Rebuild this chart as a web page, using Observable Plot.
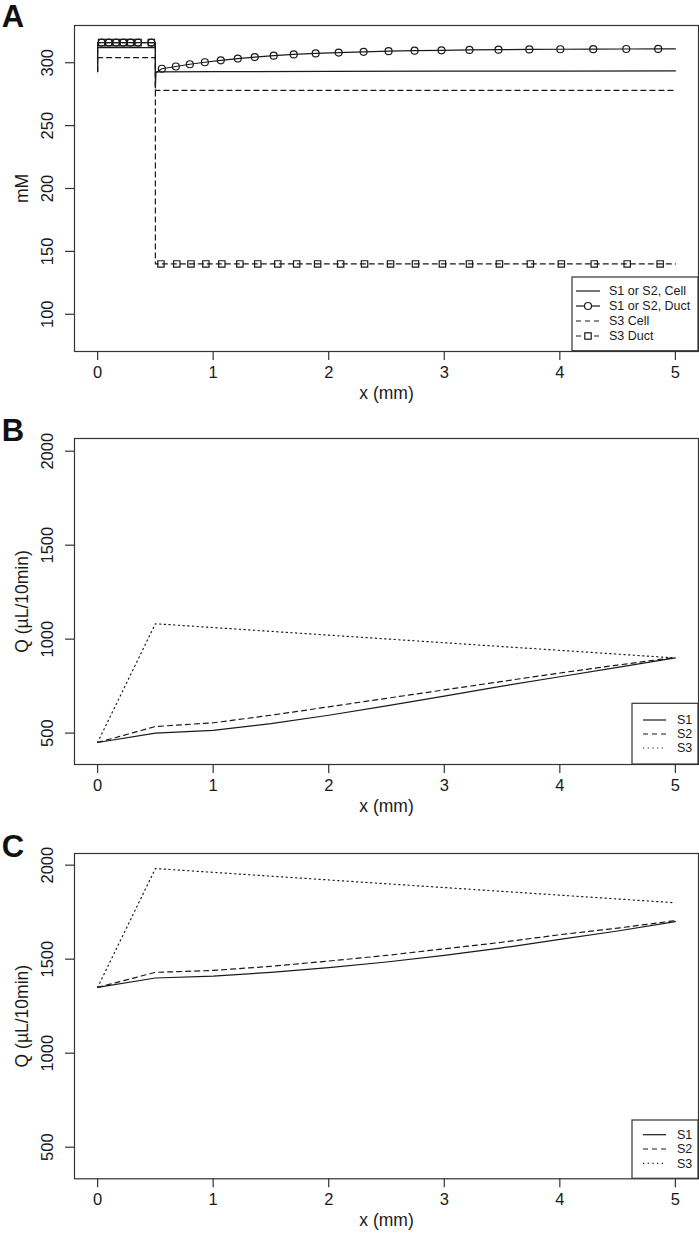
<!DOCTYPE html>
<html><head><meta charset="utf-8">
<script src="https://cdn.jsdelivr.net/npm/d3@7"></script>
<script src="https://cdn.jsdelivr.net/npm/@observablehq/plot@0.6"></script>
<style>
body{margin:0;background:#fff;font-family:"Liberation Sans",Arial,Helvetica,sans-serif}
svg{display:block}
</style>
</head><body><div id="chart"></div>
<script>
// ---------- tick labels ----------
const xTicks = [0, 1, 2, 3, 4, 5];
const aYTicks = [100, 150, 200, 250, 300];
const qYTicks = [500, 1000, 1500, 2000];

// ---------- Panel A (mM) ----------
const aCellS12X = [0, 0, 0.5, 0.5, 0.52, 1, 2, 3, 4, 5];
const aCellS12Y = [293, 312, 312, 292.5, 292.7, 292.9, 293.1, 293.3, 293.4, 293.5];

const aDuctS12X = [0, 0, 0.035, 0.097, 0.16, 0.222, 0.285, 0.35, 0.465, 0.5, 0.5, 0.505,
  0.556, 0.677, 0.798, 0.928, 1.066, 1.213, 1.36, 1.524, 1.697, 1.887, 2.086, 2.302,
  2.518, 2.743, 2.976, 3.218, 3.469, 3.736, 4.004, 4.289, 4.575, 4.851, 5];
const aDuctS12Y = [293, 316, 316, 316, 316, 316, 316, 316, 316, 316, 280, 292,
  295.2, 297.0, 298.8, 300.4, 301.9, 303.3, 304.5, 305.6, 306.6, 307.4, 308.1, 308.7,
  309.2, 309.6, 309.9, 310.2, 310.4, 310.6, 310.7, 310.8, 310.9, 311.0, 311.0];
const aDuctS12M = [0, 0, 1, 1, 1, 1, 1, 1, 1, 0, 0, 0,
  1, 1, 1, 1, 1, 1, 1, 1, 1, 1, 1, 1, 1, 1, 1, 1, 1, 1, 1, 1, 1, 1, 0];

const aCellS3X = [0, 0.5, 0.5, 5];
const aCellS3Y = [304, 304, 278, 278];

const aDuctS3X = [0, 0, 0.035, 0.097, 0.16, 0.222, 0.285, 0.35, 0.465, 0.5, 0.5,
  0.548, 0.685, 0.808, 0.937, 1.075, 1.231, 1.386, 1.559, 1.723, 1.904, 2.103, 2.31,
  2.535, 2.751, 2.984, 3.218, 3.477, 3.745, 4.013, 4.298, 4.583, 4.868, 5];
const aDuctS3Y = [293, 316, 316, 316, 316, 316, 316, 316, 316, 316, 140,
  140, 140, 140, 140, 140, 140, 140, 140, 140, 140, 140, 140,
  140, 140, 140, 140, 140, 140, 140, 140, 140, 140, 140];
const aDuctS3M = [0, 0, 1, 1, 1, 1, 1, 1, 1, 0, 0,
  1, 1, 1, 1, 1, 1, 1, 1, 1, 1, 1, 1, 1, 1, 1, 1, 1, 1, 1, 1, 1, 1, 0];

// ---------- Panels B and C (Q, µL/10min) ----------
const qX = [0, 0.5, 1, 1.5, 2, 2.5, 3, 3.5, 4, 4.5, 5];
const bS1 = [450, 500, 515, 550, 595, 645, 697, 750, 800, 850, 900];
const bS2 = [450, 535, 555, 595, 640, 685, 730, 775, 820, 862, 903];
const bS3X = [0, 0.5, 5];
const bS3 = [450, 1082, 900];

const cS1 = [1350, 1400, 1410, 1430, 1455, 1485, 1520, 1560, 1605, 1650, 1700];
const cS2 = [1350, 1430, 1440, 1462, 1490, 1520, 1555, 1590, 1630, 1665, 1705];
const cS3X = [0, 0.5, 5];
const cS3 = [1350, 1982, 1800];

const legendA = ["S1 or S2, Cell", "S1 or S2, Duct", "S3 Cell", "S3 Duct"];
const legendQ = ["S1", "S2", "S3"];

// ---------- helpers ----------
const INK = "#1a1a1a";
const LW = 1.2;
const DASH = "5,4";
const DOT = "1.2,3.5";
const FONT = '"Liberation Sans", Arial, Helvetica, sans-serif';
const zip = (xs, ys, ms) => xs.map((x, i) => ({x, y: ys[i], m: ms ? ms[i] : 0}));

function panel({height, mt, mb, yDomain, yTicks, yLabel, letter, letterDy, series}) {
  return Plot.plot({
    width: 699, height,
    marginLeft: 74, marginRight: 1, marginTop: mt, marginBottom: mb,
    style: {fontFamily: FONT, color: INK, background: "white"},
    x: {domain: [-0.2, 5.2]},
    y: {domain: yDomain},
    marks: [
      ...series,
      Plot.frame({stroke: "#333", strokeWidth: 1.2}),
      Plot.axisX({ticks: xTicks, tickSize: 9, tickFormat: () => "", label: null, stroke: "#333", strokeWidth: 1.2}),
      Plot.axisY({ticks: yTicks, tickSize: 9, tickFormat: () => "", label: null, stroke: "#333", strokeWidth: 1.2}),
      Plot.text(xTicks, {x: d => d, frameAnchor: "bottom", dy: 26, text: d => String(d), fontSize: 16.5, fill: INK}),
      Plot.text(yTicks, {y: d => d, frameAnchor: "left", dx: -27, rotate: -90, textAnchor: "middle", text: d => String(d), fontSize: 16.5, fill: INK}),
      Plot.text([yLabel], {frameAnchor: "left", dx: -52, rotate: -90, textAnchor: "middle", text: d => d, fontSize: 17.5, fill: INK}),
      Plot.text(["x (mm)"], {frameAnchor: "bottom", dy: 47, text: d => d, fontSize: 17.5, fill: INK}),
      Plot.text([letter], {frameAnchor: "top-left", dx: -61.5, dy: letterDy, textAnchor: "middle", lineAnchor: "middle", text: d => d, fontSize: 31, fontWeight: "bold", fill: "#111"})
    ]
  });
}

function addLegend(svg, {x0, x1, y0, y1, rows, lineX0, lineX1, textX, fontSize}) {
  const g = d3.select(svg).append("g").attr("text-anchor", "start");
  g.append("rect").attr("x", x0).attr("y", y0).attr("width", x1 - x0).attr("height", y1 - y0)
    .attr("fill", "white").attr("stroke", "#333").attr("stroke-width", 1.2);
  rows.forEach(r => {
    g.append("line").attr("x1", lineX0).attr("x2", lineX1).attr("y1", r.y).attr("y2", r.y)
      .attr("stroke", INK).attr("stroke-width", LW).attr("stroke-dasharray", r.dash || null);
    const cx = (lineX0 + lineX1) / 2;
    if (r.sym === "circle") {
      g.append("circle").attr("cx", cx).attr("cy", r.y).attr("r", 3.5).attr("fill", "white").attr("stroke", INK).attr("stroke-width", LW);
    } else if (r.sym === "square") {
      g.append("rect").attr("x", cx - 3.2).attr("y", r.y - 3.2).attr("width", 6.4).attr("height", 6.4).attr("fill", "white").attr("stroke", INK).attr("stroke-width", LW);
    }
    g.append("text").attr("x", textX).attr("y", r.y).attr("dy", "0.35em").attr("font-size", fontSize)
      .attr("text-anchor", "start").attr("fill", INK).attr("font-family", FONT).text(r.label);
  });
}

const root = document.getElementById("chart");

// ---------- Panel A ----------
const dCell12 = zip(aCellS12X, aCellS12Y);
const dDuct12 = zip(aDuctS12X, aDuctS12Y, aDuctS12M);
const dCell3 = zip(aCellS3X, aCellS3Y);
const dDuct3 = zip(aDuctS3X, aDuctS3Y, aDuctS3M);
const chartA = panel({
  height: 410, mt: 25, mb: 59, yDomain: [70.4, 329.6], yTicks: aYTicks, yLabel: "mM", letter: "A", letterDy: -8.5,
  series: [
    Plot.line(dCell12, {x: "x", y: "y", stroke: INK, strokeWidth: LW}),
    Plot.line(dDuct12, {x: "x", y: "y", stroke: INK, strokeWidth: LW}),
    Plot.dot(dDuct12.filter(d => d.m), {x: "x", y: "y", r: 3.5, stroke: INK, strokeWidth: LW, fill: "none"}),
    Plot.line(dCell3, {x: "x", y: "y", stroke: INK, strokeWidth: LW, strokeDasharray: DASH}),
    Plot.line(dDuct3, {x: "x", y: "y", stroke: INK, strokeWidth: LW, strokeDasharray: DASH}),
    Plot.dot(dDuct3.filter(d => d.m), {x: "x", y: "y", r: 3.6, symbol: "square", stroke: INK, strokeWidth: LW, fill: "none"})
  ]
});
root.appendChild(chartA);
addLegend(chartA, {x0: 572, x1: 698, y0: 277, y1: 350.7, lineX0: 576, lineX1: 600, textX: 609, fontSize: 12.5,
  rows: [
    {label: legendA[0], y: 291, dash: null},
    {label: legendA[1], y: 306, dash: null, sym: "circle"},
    {label: legendA[2], y: 321, dash: DASH},
    {label: legendA[3], y: 336, dash: DASH, sym: "square"}
  ]});

// ---------- Panel B ----------
const chartB = panel({
  height: 415, mt: 28, mb: 61, yDomain: [333, 2067.6], yTicks: qYTicks, yLabel: "Q (µL/10min)", letter: "B", letterDy: -7.5,
  series: [
    Plot.line(zip(qX, bS1), {x: "x", y: "y", stroke: INK, strokeWidth: LW}),
    Plot.line(zip(qX, bS2), {x: "x", y: "y", stroke: INK, strokeWidth: LW, strokeDasharray: DASH}),
    Plot.line(zip(bS3X, bS3), {x: "x", y: "y", stroke: INK, strokeWidth: LW, strokeDasharray: DOT})
  ]
});
root.appendChild(chartB);
addLegend(chartB, {x0: 632, x1: 698, y0: 293.3, y1: 354, lineX0: 643, lineX1: 666, textX: 677, fontSize: 12.5,
  rows: [
    {label: legendQ[0], y: 310, dash: null},
    {label: legendQ[1], y: 324, dash: DASH},
    {label: legendQ[2], y: 338, dash: DOT}
  ]});

// ---------- Panel C ----------
const chartC = panel({
  height: 416, mt: 28, mb: 62.7, yDomain: [332, 2062], yTicks: qYTicks, yLabel: "Q (µL/10min)", letter: "C", letterDy: -6,
  series: [
    Plot.line(zip(qX, cS1), {x: "x", y: "y", stroke: INK, strokeWidth: LW}),
    Plot.line(zip(qX, cS2), {x: "x", y: "y", stroke: INK, strokeWidth: LW, strokeDasharray: DASH}),
    Plot.line(zip(cS3X, cS3), {x: "x", y: "y", stroke: INK, strokeWidth: LW, strokeDasharray: DOT})
  ]
});
root.appendChild(chartC);
addLegend(chartC, {x0: 632, x1: 698, y0: 295, y1: 353.3, lineX0: 643, lineX1: 666, textX: 677, fontSize: 12.5,
  rows: [
    {label: legendQ[0], y: 309.7, dash: null},
    {label: legendQ[1], y: 324, dash: DASH},
    {label: legendQ[2], y: 338.3, dash: DOT}
  ]});
</script>
</body></html>
